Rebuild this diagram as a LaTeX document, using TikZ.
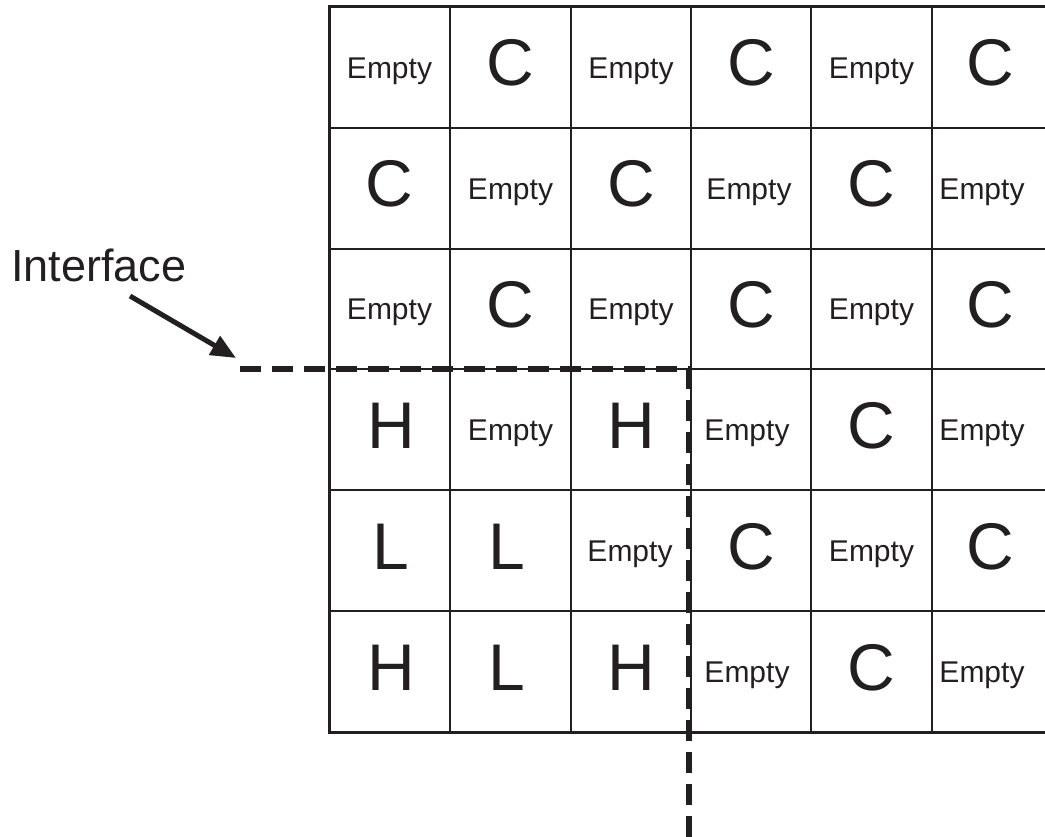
\documentclass[tikz,border=0pt]{standalone}
\usepackage{fontspec}
\setmainfont{Liberation Sans}
\usetikzlibrary{arrows.meta}
\definecolor{ink}{RGB}{35,31,32}
\tikzset{
  small/.style={anchor=base, inner sep=0pt, text=ink, yshift=-10.7pt, font=\fontsize{30}{36}\selectfont},
  big/.style={anchor=base, inner sep=0pt, text=ink, yshift=-18.5pt, font=\fontsize{66}{70}\selectfont},
  gridline/.style={draw=ink, line width=1.2pt},
  border/.style={draw=ink, line width=3pt},
  iface/.style={draw=ink, line width=5.5pt, dash pattern=on 21pt off 11pt},
  pointer/.style={draw=ink, line width=5pt, -{Triangle[length=25pt,width=21pt]}}
}
\begin{document}
\begin{tikzpicture}[x=1pt,y=-1pt]
\useasboundingbox (0,0) rectangle (1045,837);
\begin{scope}
\clip (0,0) rectangle (1045,837);
% grid
\foreach \xx in {450,571,691,811,932} \draw[gridline] (\xx,7) -- (\xx,732);
\foreach \yy in {128,249,369,490,611} \draw[gridline] (329,\yy) -- (1052,\yy);
\draw[border] (329,7) rectangle (1052,732);
% cells
\foreach \n/\x/\y/\s/\t in {
 a1/389.5/67.5/small/Empty, a2/510.5/67.5/big/C, a3/631/67.5/small/Empty, a4/751/67.5/big/C, a5/871.5/67.5/small/Empty, a6/990/67.5/big/C,
 b1/389.5/188.5/big/C, b2/510.5/188.5/small/Empty, b3/631/188.5/big/C, b4/749/188.5/small/Empty, b5/871.5/188.5/big/C, b6/982/188.5/small/Empty,
 c1/389.5/309/small/Empty, c2/510.5/309/big/C, c3/631/309/small/Empty, c4/751/309/big/C, c5/871.5/309/small/Empty, c6/990/309/big/C,
 d1/391/429.5/big/H, d2/510.5/429.5/small/Empty, d3/631/429.5/big/H, d4/747/429.5/small/Empty, d5/871.5/429.5/big/C, d6/982/429.5/small/Empty,
 e1/391/550.5/big/L, e2/507/550.5/big/L, e3/630/550.5/small/Empty, e4/751/550.5/big/C, e5/871.5/550.5/small/Empty, e6/990/550.5/big/C,
 f1/391/671.5/big/H, f2/507/671.5/big/L, f3/631/671.5/big/H, f4/747/671.5/small/Empty, f5/871.5/671.5/big/C, f6/982/671.5/small/Empty}
 \node[\s] (\n) at (\x,\y) {\t};
% interface line
\coordinate (ifstart) at (240,369);
\coordinate (ifcorner) at (689,369);
\coordinate (ifend) at (689,840);
\draw[iface] (ifstart) -- (ifcorner) -- (ifend);
% label and arrow
\node[anchor=base west, inner sep=0pt, text=ink, font=\fontsize{45}{50}\selectfont] (lbl) at (11,282) {Interface};
\coordinate (arrstart) at (130,296);
\coordinate (arrtip) at (236,358);
\draw[pointer] (arrstart) -- (arrtip);
\end{scope}
\end{tikzpicture}
\end{document}
